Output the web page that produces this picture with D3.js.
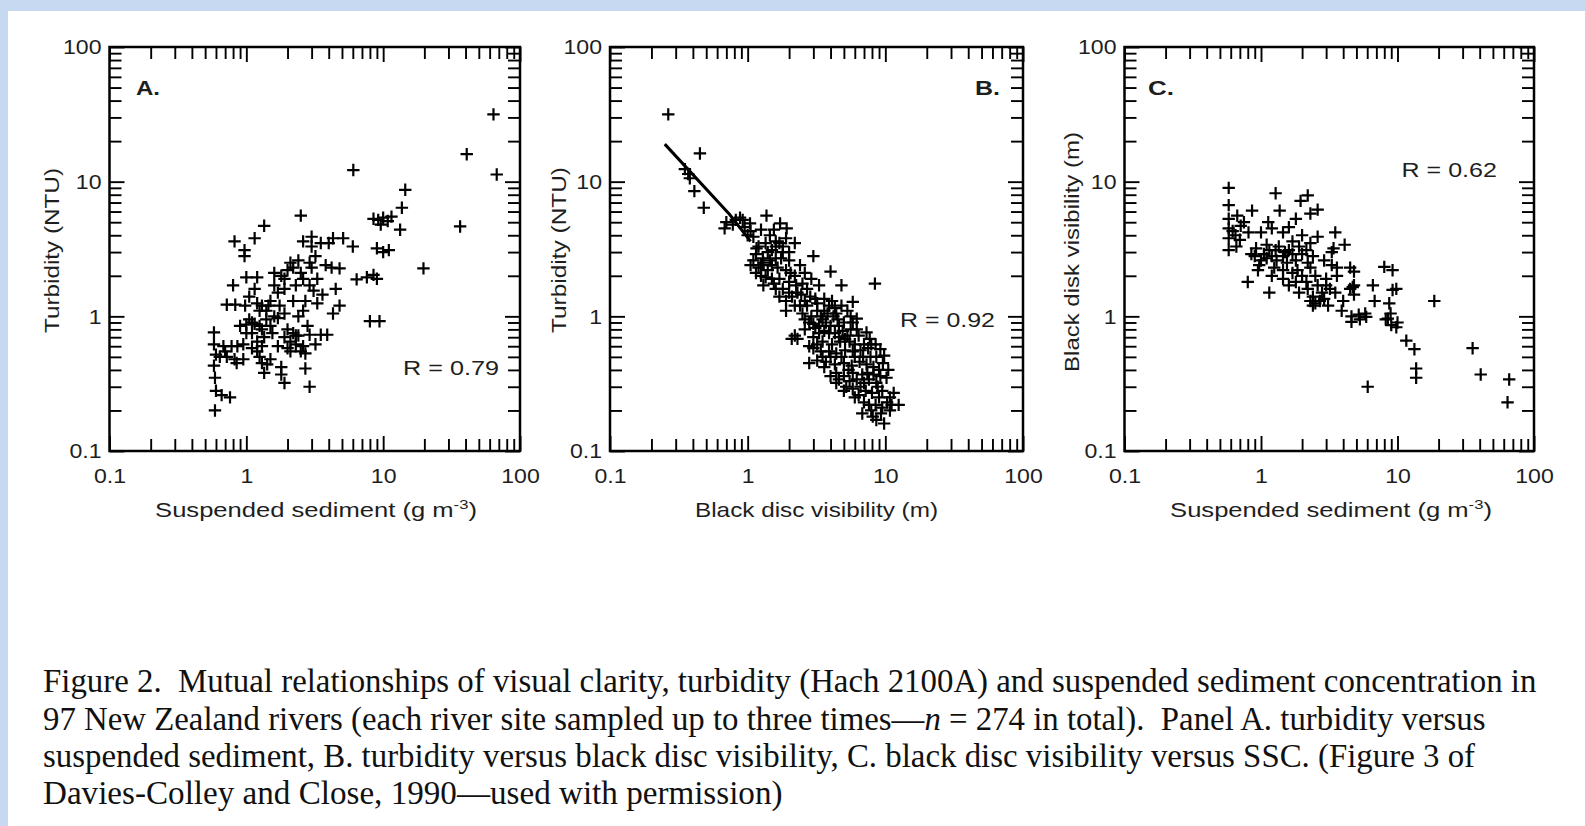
<!DOCTYPE html>
<html><head><meta charset="utf-8">
<script src="https://cdn.jsdelivr.net/npm/d3@7"></script>
<style>html,body{margin:0;padding:0;background:#fff;overflow:hidden}svg{display:block}</style>
</head><body><svg id="c" width="1585" height="826"></svg>
<script>
// ---------------- data ----------------
const decadeTicks = [0.1, 1, 10, 100];
const tickLabels = ["0.1", "1", "10", "100"];
const panelLetters = ["A.", "B.", "C."];
const rLabels = ["R = 0.79", "R = 0.92", "R = 0.62"];
const xTitles = ["Suspended sediment (g m", "Black disc visibility (m)", "Suspended sediment (g m"];
const xTitleSup = ["-3", "", "-3"];
const yTitles = ["Turbidity (NTU)", "Turbidity (NTU)", "Black disk visibility (m)"];

// Panel A: turbidity (NTU) vs suspended sediment (g m-3)
const pointsA = [
[0.58,0.76],[0.58,0.62],[0.6,0.52],[0.58,0.43],[0.59,0.35],[0.6,0.28],[0.59,0.2],[0.66,0.26],[0.76,0.25],
[0.68,0.6],[0.78,0.6],[0.86,0.6],[0.95,0.62],
[0.64,0.5],[0.72,0.5],[0.82,0.48],[0.95,0.48],[1.25,0.5],[1.5,0.48],
[0.7,0.55],[1.2,0.55],[0.85,0.45],[1.3,0.45],[1.35,0.38],[1.42,0.44],[1.8,0.42],[1.9,0.32],[1.8,0.37],[2.7,0.41],[2.9,0.3],[2.7,0.53],[2.6,0.6],
[1.0,0.87],[1.15,0.88],[1.3,0.8],[1.1,0.75],[1.0,0.75],[1.5,0.85],[1.35,0.7],[1.05,0.95],[1.2,0.65],[1.1,0.9],[0.9,0.85],
[1.3,1.2],[1.45,1.2],[1.25,1.1],[1.6,1.0],[1.4,1.1],[1.5,1.3],[1.2,1.25],[0.72,1.22],[0.83,1.22],
[0.8,1.7],[1.0,1.95],[1.2,1.95],[0.82,3.6],[0.97,3.1],[0.97,2.8],[1.15,3.8],[1.35,4.7],[2.5,5.6],
[2.6,3.6],[3.0,3.9],[3.0,3.3],[3.5,3.5],[4.3,3.8],[5.1,3.8],[6.0,3.3],[4.0,3.5],
[2.1,2.5],[2.2,2.3],[1.6,2.1],[1.9,1.9],[2.5,2.1],[3.0,2.3],[2.9,2.5],[3.8,2.4],[4.2,2.3],[4.8,2.27],[1.8,2.0],[2.0,2.2],[2.4,2.6],[3.2,2.8],[2.6,1.9],[3.3,1.9],
[1.6,1.7],[1.9,1.6],[2.3,1.7],[2.9,1.7],[3.1,1.55],[3.6,1.45],[4.5,1.6],[1.7,1.5],
[4.8,1.2],[4.3,1.05],[2.2,1.3],[2.7,1.3],[2.4,1.0],[1.7,0.97],
[2.0,0.8],[2.2,0.75],[1.9,0.7],[2.3,0.72],[2.4,0.72],[2.9,0.73],[3.5,0.73],[3.9,0.73],[2.3,0.62],[2.5,0.55],[1.7,0.6],[2.1,0.55],[1.3,0.6],[1.1,0.58],[2.1,0.65],[2.0,0.58],
[1.4,0.95],[1.55,0.75],[1.25,0.85],[1.75,1.2],[1.9,1.05],[2.6,1.1],[3.3,1.25],[2.8,0.85],[3.2,0.62],[1.05,1.4],[1.15,1.6],[0.98,1.2],
[6.05,12.2],[14.5,8.7],[13.7,6.4],[13.3,4.4],[36.5,4.65],[19.7,2.27],[8.0,0.92],[9.4,0.92],
[8.5,5.3],[9.2,5.2],[10.0,5.4],[10.8,5.1],[11.5,5.5],[9.6,4.8],[9.0,3.2],[10.0,3.0],[11.0,3.1],[8.5,2.03],[9.0,1.9],[6.4,1.88],[7.6,1.95],
[64,31.6],[40.8,16.0],[67.6,11.3]
];

// Panel B: turbidity (NTU) vs black disc visibility (m)
const pointsB = [
[0.265,31.6],[0.45,16.2],[0.35,12.4],[0.37,11.4],[0.38,10.6],[0.41,8.5],[0.48,6.4],[0.68,4.5],[0.82,5.2],[0.92,5.2],[1.04,4.9],[1.37,5.6],[1.72,4.9],[1.92,4.5],[1.16,3.2],[1.29,2.7],[1.6,3.6],[1.7,3.5],[1.9,3.8],[2.2,3.5],[3.0,2.8],[4.0,2.15],[4.8,1.7],[8.4,1.75],[5.8,1.28],[6.2,0.96],[7.3,0.76],[7.7,0.68],[9.8,0.51],
[1.1,2.6],[1.2,2.3],[1.3,2.5],[1.4,2.2],[1.35,1.95],[1.3,1.7],[1.5,2.4],[1.6,2.7],[1.8,3.0],[2.0,2.6],[1.9,2.2],[1.7,1.9],[1.55,1.75],[1.8,1.6],[2.0,1.8],[2.2,2.0],[2.4,2.4],[2.5,1.75],[2.3,1.5],[2.1,1.4],[1.9,1.3],[2.7,1.6],[2.9,1.9],[3.3,1.7],[3.6,1.35],[3.1,1.35],[2.7,1.2],[2.4,1.2],
[2.9,1.0],[3.2,1.1],[3.5,0.95],[3.8,1.05],[4.3,1.15],[4.1,1.3],[4.8,1.2],[5.3,1.1],[5.0,0.9],[4.5,0.95],[4.0,0.85],[3.3,0.85],[3.0,0.88],[3.6,0.78],[4.3,0.75],[4.9,0.78],[5.6,0.8],[6.4,0.72],[5.5,0.65],[4.7,0.65],[4.1,0.62],[3.5,0.65],[3.0,0.7],[2.6,0.8],
[2.09,0.68],[2.3,0.68],[2.2,0.72],
[3.0,0.58],[3.4,0.55],[3.9,0.55],[4.4,0.53],[5.1,0.56],[5.8,0.55],[6.6,0.56],[7.5,0.58],[8.5,0.62],[9.2,0.57],[2.8,0.45],[3.2,0.47],[3.7,0.46],[4.3,0.44],[5.0,0.45],[5.7,0.43],[6.5,0.46],[7.3,0.44],[8.2,0.42],[9.2,0.36],[4.4,0.38],[5.0,0.36],[5.8,0.38],[6.8,0.37],[7.6,0.34],[8.6,0.32],[4.4,0.32],[5.2,0.3],[5.8,0.29],[6.6,0.3],[7.2,0.28],[8.0,0.27],[9.5,0.28],[10.8,0.25],[10.3,0.23],[10.8,0.2],[6.4,0.26],[7.0,0.23],[8.5,0.22],[6.8,0.19],[8.6,0.17],[9.8,0.16],[7.9,0.2],[9.5,0.21],
[1.25,2.0],[1.45,2.6],[1.65,2.3],[1.75,2.7],[2.05,2.1],[2.25,1.7],[2.45,1.45],[2.6,1.3],[2.85,1.4],[3.2,1.25],[3.4,1.0],[3.7,0.9],[3.9,0.75],[4.6,0.85],[5.3,0.72],[6.0,0.62],[4.0,0.5],[3.5,0.5],[4.8,0.5],[6.0,0.5],[6.9,0.5],[7.8,0.5],[5.4,0.4],[6.2,0.34],[7.0,0.32],[8.8,0.3],[9.0,0.25],[3.2,0.62],[2.8,0.6],[2.6,0.95],[4.2,1.0],[5.6,1.0],[1.15,2.9],[1.5,3.1],[2.6,2.1],
[1.05,4.3],[1.1,3.9],[1.25,4.4],[1.45,4.0],[1.55,4.4],[1.35,3.5],[1.6,3.3],[1.8,3.3],[2.0,3.0],[1.2,3.3],[1.4,3.0],[1.25,2.4],[1.05,2.4],[1.15,2.1],[1.5,1.9],[1.6,1.6],[1.7,1.4],[2.0,1.5],[2.2,1.2],[1.9,1.1],
[0.7,5.0],[0.78,4.8],[0.88,5.4],[0.95,4.6],[1.0,4.0],
[2.5,1.05],[2.8,0.9],[3.1,0.82],[3.3,0.75],[3.6,1.1],[3.9,1.2],[4.4,1.05],[4.6,0.7],[5.1,0.68],[5.8,0.9],[6.2,0.8],[7.0,0.62],[7.9,0.62],[8.6,0.5],[9.6,0.45],[10.5,0.4],[10.2,0.35],[11.5,0.27],
[3.6,0.42],[4.0,0.36],[4.6,0.34],[5.5,0.33],[6.0,0.25],[7.4,0.38],[8.2,0.37],[9.0,0.4],[5.0,0.28],[7.6,0.22],[8.1,0.18],[9.3,0.19],[11.1,0.22],[12.5,0.22]
];
// jagged fitted line in panel B (visibility m, turbidity NTU)
const lineB = [[0.25,19],[0.74,5.7],[1.05,3.6]];

// Panel C: black disk visibility (m) vs suspended sediment (g m-3)
const pointsC = [
[0.58,9.0],[0.58,6.7],[0.58,5.3],[0.58,4.5],[0.58,3.8],[0.58,3.1],[0.67,5.6],[0.71,4.7],[0.81,4.2],[0.86,6.1],[0.65,4.0],[0.62,4.3],[0.7,3.7],[0.75,5.0],[0.66,3.3],
[1.28,8.2],[1.37,6.1],[1.13,5.0],[1.45,4.2],[1.8,5.3],[2.2,7.9],[1.95,7.2],[2.3,5.8],[2.6,6.2],[1.2,4.5],[1.6,4.6],[1.0,4.2],
[0.8,1.8],[1.15,1.5],[0.97,2.4],[0.9,2.8],[1.0,2.6],[1.15,3.1],[1.28,3.1],[1.45,2.8],[1.6,3.1],[1.9,3.3],[2.15,3.1],[2.4,2.8],[1.45,2.2],[1.7,2.1],[2.0,2.0],[2.3,2.3],[1.45,1.9],[1.8,1.8],[2.15,1.8],
[1.05,2.9],[1.1,2.7],[1.2,2.8],[1.3,2.6],[1.35,3.3],[1.5,3.0],[1.7,2.9],[1.8,2.6],[2.0,2.9],[2.2,2.5],[1.25,2.3],[1.55,2.5],[1.85,2.2],[2.5,2.0],[2.6,1.7],[2.8,1.5],[2.7,1.3],[3.1,1.2],[2.5,1.25],[3.5,1.5],[3.0,1.7],[2.2,1.6],[1.9,1.5],[1.6,1.7],[1.2,2.0],[0.95,2.2],[2.3,3.5],[1.7,3.6],[2.0,4.0],[2.6,3.9],[3.3,3.0],[2.9,2.6],[2.4,1.2],[0.85,2.9],[0.92,3.2],[1.1,3.4],
[2.4,1.4],[2.9,1.35],[3.2,1.6],[3.0,1.9],[3.5,4.2],[4.1,3.4],[3.4,3.2],
[3.3,2.4],[4.5,2.3],[3.6,2.0],[4.7,1.65],[4.5,1.6],[4.0,1.3],[4.6,1.0],[5.2,1.03],[5.8,1.05],[3.9,1.1],[2.3,1.3],[3.6,2.3],[4.8,2.15],[4.8,1.7],[4.8,1.45],
[6.6,1.7],[6.8,1.3],[8.0,2.33],[9.2,2.2],[9.2,1.57],[9.8,1.6],[8.7,1.25],[8.2,0.95],[8.5,0.96],[9.0,0.86],[9.8,0.83],[11.6,0.66],[13.3,0.57],[13.7,0.41],[13.7,0.35],[6.05,0.30],[18.6,1.3],[35.5,0.58],[40.7,0.37],[65.8,0.34],[64,0.23],[4.6,0.91],[5.3,0.95],[5.9,0.99],[8.9,1.05],[10.0,0.9]
];

const captionLines = [
  [["Figure 2.  Mutual relationships of visual clarity, turbidity (Hach 2100A) and suspended sediment concentration in", false]],
  [["97 New Zealand rivers (each river site sampled up to three times\u2014", false], ["n", true], [" = 274 in total).  Panel A. turbidity versus", false]],
  [["suspended sediment, B. turbidity versus black disc visibility, C. black disc visibility versus SSC. (Figure 3 of", false]],
  [["Davies-Colley and Close, 1990\u2014used with permission)", false]]
];

// ---------------- layout ----------------
const W = 1585, H = 826;
const Y0 = 47, Y1 = 451;
const MINOR = 12, MAJOR = 15;
const SANS = "'Liberation Sans', Arial, Helvetica, sans-serif";
const SERIF = "'Liberation Serif', 'Times New Roman', serif";
const TXT = "#1e1e1e";

const panels = [
  {x0:109.5, x1:520, pts:pointsA, line:null,
   letter:[136,95,24], r:[403,375,96], xt:[316,517,322], yt:[59,250.5,165]},
  {x0:610, x1:1023, pts:pointsB, line:lineB,
   letter:[975,95,25], r:[900,327,95], xt:[816.5,517,243], yt:[566,250,166]},
  {x0:1124.5, x1:1534, pts:pointsC, line:null,
   letter:[1148,95,26], r:[1401.5,177,95.5], xt:[1331,517,322], yt:[1079,252,240]}
];

const svg = d3.select("#c");
svg.append("rect").attr("width", W).attr("height", H).attr("fill", "#c6d9f0");
svg.append("rect").attr("x", 8).attr("y", 11).attr("width", W - 8).attr("height", H - 11).attr("fill", "#ffffff");

// all log ticks 0.1..100
const allTicks = [];
decadeTicks.slice(0, 3).forEach(d => { for (let k = 1; k <= 9; k++) allTicks.push(+(k * d).toPrecision(3)); });
allTicks.push(100);
const isMajor = v => Math.abs(Math.log10(v) - Math.round(Math.log10(v))) < 1e-6;
const fmt = v => { const i = decadeTicks.findIndex(d => Math.abs(d - v) / d < 1e-6); return i >= 0 ? tickLabels[i] : ""; };

function fit(sel, x, y, targetW, anchor, rot) {
  sel.attr("text-anchor", anchor).attr("x", 0).attr("y", 0);
  const w = sel.node().getBBox().width || 1;
  const s = targetW / w;
  sel.attr("transform", `translate(${x},${y})` + (rot ? ` rotate(${rot})` : "") + ` scale(${s},1)`);
}

function styleAxis(g) {
  g.attr("font-size", null).attr("font-family", null);
  g.select(".domain").remove();
  g.selectAll(".tick line").attr("stroke", "#000").attr("stroke-width", 1.9);
  g.selectAll(".tick text").attr("font-family", SANS).attr("font-size", 21).attr("fill", TXT);
}

panels.forEach((p, i) => {
  const x = d3.scaleLog().domain([0.1, 100]).range([p.x0, p.x1]);
  const y = d3.scaleLog().domain([0.1, 100]).range([Y1, Y0]);
  const g = svg.append("g");

  // bottom axis
  const gb = g.append("g").attr("transform", `translate(0,${Y1})`)
    .call(d3.axisBottom(x).tickValues(allTicks).tickSize(-MINOR).tickPadding(17).tickFormat(fmt));
  styleAxis(gb);
  gb.selectAll(".tick line").attr("y2", d => isMajor(d) ? -MAJOR : -MINOR);
  gb.selectAll(".tick text").attr("transform", "scale(1.1,1)");
  // top axis
  const gt = g.append("g").attr("transform", `translate(0,${Y0})`)
    .call(d3.axisTop(x).tickValues(allTicks).tickSize(-MINOR).tickFormat(() => ""));
  styleAxis(gt);
  gt.selectAll(".tick line").attr("y2", d => isMajor(d) ? MAJOR : MINOR);
  // left axis
  const gl = g.append("g").attr("transform", `translate(${p.x0},0)`)
    .call(d3.axisLeft(y).tickValues(allTicks).tickSize(-MINOR).tickPadding(8).tickFormat(fmt));
  styleAxis(gl);
  gl.selectAll(".tick line").attr("x2", d => isMajor(d) ? MAJOR : MINOR);
  gl.selectAll(".tick text").attr("x", 0).attr("transform", "translate(-8,0) scale(1.1,1)");
  // right axis
  const gr = g.append("g").attr("transform", `translate(${p.x1},0)`)
    .call(d3.axisRight(y).tickValues(allTicks).tickSize(-MINOR).tickFormat(() => ""));
  styleAxis(gr);
  gr.selectAll(".tick line").attr("x2", d => isMajor(d) ? -MAJOR : -MINOR);

  // frame
  g.append("rect").attr("x", p.x0).attr("y", Y0).attr("width", p.x1 - p.x0).attr("height", Y1 - Y0)
    .attr("fill", "none").attr("stroke", "#000").attr("stroke-width", 2.5);

  // line (panel B)
  if (p.line) {
    g.append("path").datum(p.line)
      .attr("d", d3.line().x(d => x(d[0])).y(d => y(d[1])))
      .attr("fill", "none").attr("stroke", "#000").attr("stroke-width", 3);
  }

  // "+" markers
  const s = 6.2;
  g.append("g").selectAll("path").data(p.pts).join("path")
    .attr("d", d => { const px = x(d[0]), py = y(d[1]);
      return `M${px - s},${py}H${px + s}M${px},${py - s}V${py + s}`; })
    .attr("stroke", "#000").attr("stroke-width", 2.2).attr("fill", "none");

  // panel letter
  const lt = g.append("text").text(panelLetters[i]).attr("font-family", SANS).attr("font-size", 20)
    .attr("font-weight", "bold").attr("fill", TXT);
  fit(lt, p.letter[0], p.letter[1], p.letter[2], "start");
  // R label
  const rt = g.append("text").text(rLabels[i]).attr("font-family", SANS).attr("font-size", 20).attr("fill", TXT)
    .style("white-space", "pre");
  fit(rt, p.r[0], p.r[1], p.r[2], "start");
  // x title
  const xt = g.append("text").attr("font-family", SANS).attr("font-size", 20).attr("fill", TXT);
  xt.append("tspan").text(xTitles[i]);
  if (xTitleSup[i]) {
    xt.append("tspan").text(xTitleSup[i]).attr("font-size", 13).attr("dy", -8);
    xt.append("tspan").text(")").attr("dy", 8);
  }
  fit(xt, p.xt[0], p.xt[1], p.xt[2], "middle");
  // y title
  const yt = g.append("text").text(yTitles[i]).attr("font-family", SANS).attr("font-size", 20).attr("fill", TXT);
  fit(yt, p.yt[0], p.yt[1], p.yt[2], "middle", -90);
});

// caption
const capBase = [692, 730, 767, 804];
const capRight = [1537, 1486, 1476, 783];
captionLines.forEach((segs, i) => {
  const t = svg.append("text").attr("font-family", SERIF).attr("font-size", 33).attr("fill", "#111")
    .style("white-space", "pre");
  segs.forEach(([s, it]) => { const ts = t.append("tspan").text(s); if (it) ts.attr("font-style", "italic"); });
  fit(t, 43, capBase[i], capRight[i] - 43, "start");
});
</script>
</body></html>
